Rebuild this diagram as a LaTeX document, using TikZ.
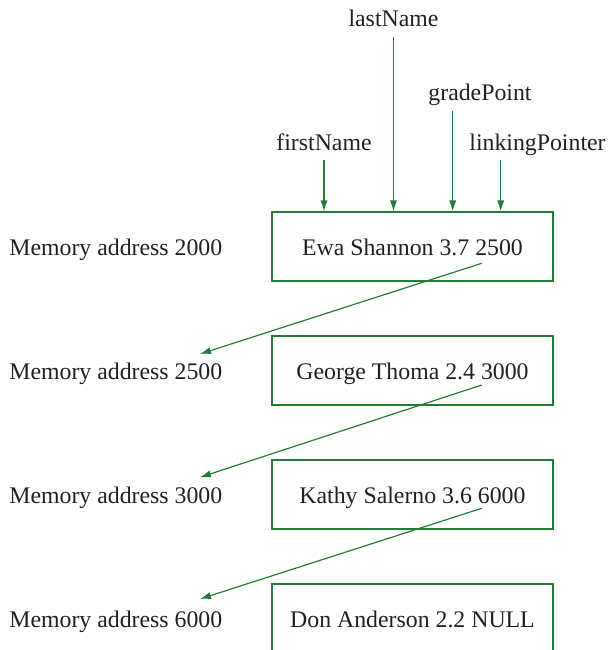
\documentclass[tikz,border=0pt]{standalone}
\usepackage{fontspec}
\setmainfont{Liberation Serif}
\usetikzlibrary{arrows.meta}
\definecolor{lg}{RGB}{35,125,55}
\definecolor{tx}{RGB}{35,31,32}
\begin{document}
\begin{tikzpicture}[x=0.5pt,y=-0.5pt,
 every node/.style={font=\fontsize{11.9}{14}\selectfont, text=tx, inner sep=0pt},
 rec/.style={draw=lg, line width=0.6pt, minimum width=140.5pt, minimum height=34.5pt,
   text height=11pt, text depth=2.5pt},
 link/.style={draw=lg, line width=0.6pt, -{Latex[length=5.5pt,width=3.6pt]}}]
\useasboundingbox (0,0) rectangle (611,650);
\clip (0,0) rectangle (611,650);
% top labels
\node[anchor=base] (ln) at (393.5,26) {lastName};
\node[anchor=base] (gp) at (480,100) {gradePoint};
\node[anchor=base] (fn) at (324,150.7) {firstName};
\node[anchor=base] (lp) at (537.5,150.7) {linkingPointer};
% boxes
\node[rec] (b1) at (412.5,246.5) {Ewa Shannon 3.7 2500};
\node[rec] (b2) at (412.5,370.5) {George Thoma 2.4 3000};
\node[rec] (b3) at (412.5,494.5) {Kathy Salerno 3.6 6000};
\node[rec] (b4) at (412.5,618.5) {Don Anderson 2.2 NULL};
% address labels
\node[anchor=base west] (m1) at (9,255) {Memory address 2000};
\node[anchor=base west] (m2) at (9,379) {Memory address 2500};
\node[anchor=base west] (m3) at (9,503) {Memory address 3000};
\node[anchor=base west] (m4) at (9,627) {Memory address 6000};
% field arrows
\draw[link] ([yshift=-5.5pt]ln.base) coordinate (lnA) -- (lnA |- b1.north);
\draw[link] ([xshift=-13.65pt,yshift=-5.5pt]gp.base) coordinate (gpA) -- (gpA |- b1.north);
\draw[link] ([yshift=-4.65pt]fn.base) coordinate (fnA) -- (fnA |- b1.north);
\draw[link] ([xshift=-18.4pt,yshift=-4.65pt]lp.base) coordinate (lpA) -- (lpA |- b1.north);
% link arrows
\coordinate (e2) at (200,354);
\coordinate (e3) at (200,477.3);
\coordinate (e4) at (200,599);
\draw[link] ([shift={(69.2,16.8)}]b1.center) -- (e2);
\draw[link] ([shift={(69.2,14.5)}]b2.center) -- (e3);
\draw[link] ([shift={(69.2,13.8)}]b3.center) -- (e4);
\end{tikzpicture}
\end{document}
